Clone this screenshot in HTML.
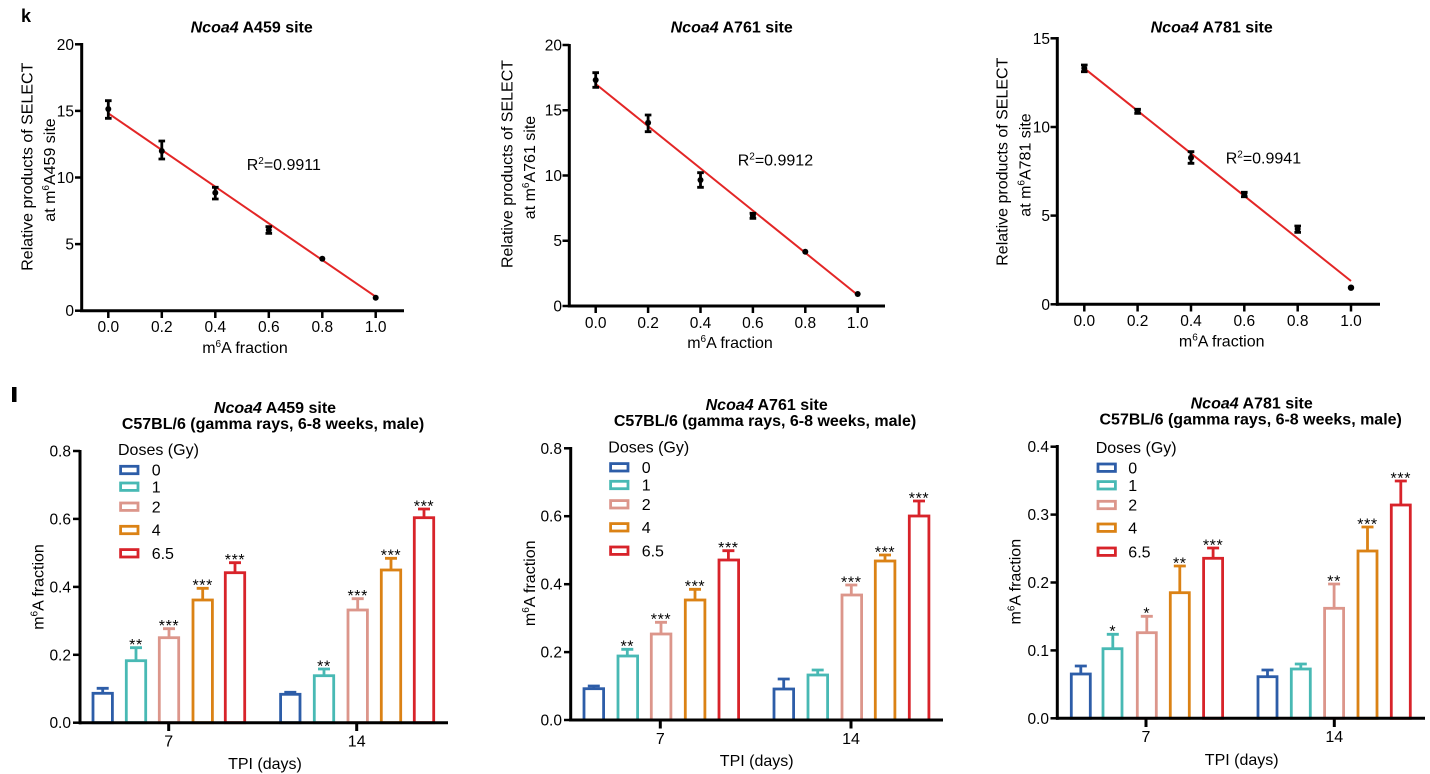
<!DOCTYPE html>
<html><head><meta charset="utf-8"><style>
html,body{margin:0;padding:0;background:#fff;}
svg{display:block;}
text{font-family:"Liberation Sans",Arial,sans-serif;fill:#000;}
.t{font-size:15.5px;}
.lab{font-size:16px;}
.ttl{font-size:16px;font-weight:bold;}
.st{font-size:16px;letter-spacing:0.6px;}
.ax{stroke:#000;stroke-width:3;fill:none;}
.tk{stroke:#000;stroke-width:2.5;fill:none;}
.eb{stroke:#000;stroke-width:2.8;fill:none;}
.fit{stroke:#e32626;stroke-width:2;fill:none;}
.b0{stroke:#2d5da8;}
.b1{stroke:#48b9b4;}
.b2{stroke:#dc968b;}
.b3{stroke:#db8215;}
.b4{stroke:#d8232a;}
.bar rect{fill:#fff;stroke-width:2.8;}
.bar path{fill:none;stroke-width:2.8;}
</style></head><body>
<svg width="1430" height="774" viewBox="0 0 1430 774" xmlns="http://www.w3.org/2000/svg">

<!-- ================= k ================= -->
<text x="21" y="22" style="font-size:18px;font-weight:bold">k</text>

<!-- Chart 1 -->
<text class="ttl" x="251.7" y="32.3" text-anchor="middle"><tspan font-style="italic">Ncoa4</tspan>  A459 site</text>
<line class="ax" x1="81.7" y1="43" x2="81.7" y2="312"/>
<line class="ax" x1="80" y1="310.7" x2="404" y2="310.7"/>
<g class="tk">
<line x1="75" y1="310.7" x2="81.7" y2="310.7"/><line x1="75" y1="244.1" x2="81.7" y2="244.1"/><line x1="75" y1="177.5" x2="81.7" y2="177.5"/><line x1="75" y1="110.9" x2="81.7" y2="110.9"/><line x1="75" y1="44.3" x2="81.7" y2="44.3"/>
<line x1="108.3" y1="310.7" x2="108.3" y2="318"/><line x1="161.8" y1="310.7" x2="161.8" y2="318"/><line x1="215.3" y1="310.7" x2="215.3" y2="318"/><line x1="268.8" y1="310.7" x2="268.8" y2="318"/><line x1="322.3" y1="310.7" x2="322.3" y2="318"/><line x1="375.7" y1="310.7" x2="375.7" y2="318"/>
</g>
<g class="t" text-anchor="end">
<text x="74" y="316.2">0</text><text x="74" y="249.6">5</text><text x="74" y="183">10</text><text x="74" y="116.4">15</text><text x="74" y="49.8">20</text>
</g>
<g class="t" text-anchor="middle">
<text x="108.3" y="332">0.0</text><text x="161.8" y="332">0.2</text><text x="215.3" y="332">0.4</text><text x="268.8" y="332">0.6</text><text x="322.3" y="332">0.8</text><text x="375.7" y="332">1.0</text>
</g>
<text class="lab" x="245" y="353" text-anchor="middle">m<tspan font-size="10" dy="-6">6</tspan><tspan dy="6">A fraction</tspan></text>
<text class="lab" transform="translate(27,166.7) rotate(-90)" y="5.7" text-anchor="middle">Relative products of SELECT</text>
<text class="lab" transform="translate(49.5,170) rotate(-90)" y="5.7" text-anchor="middle">at m<tspan font-size="10" dy="-6">6</tspan><tspan dy="6">A459 site</tspan></text>
<text class="lab" x="246.7" y="170">R<tspan font-size="10" dy="-6">2</tspan><tspan dy="6">=0.9911</tspan></text>
<line class="fit" x1="108.3" y1="113.3" x2="375.7" y2="296.7"/>
<g class="eb">
<path d="M108.3 100.7V118.3M105 100.7h6.6M105 118.3h6.6"/>
<path d="M161.8 141V159M158.5 141h6.6M158.5 159h6.6"/>
<path d="M215.3 187.3V199M212 187.3h6.6M212 199h6.6"/>
<path d="M268.8 226.7V233.3M265.5 226.7h6.6M265.5 233.3h6.6"/>
</g>
<g fill="#000">
<circle cx="108.3" cy="109" r="3"/><circle cx="161.8" cy="151" r="3"/><circle cx="215.3" cy="192.7" r="3"/><circle cx="268.8" cy="230" r="3"/><circle cx="322.3" cy="258.7" r="3"/><circle cx="375.7" cy="297.7" r="3"/>
</g>

<!-- Chart 2 -->
<text class="ttl" x="731.7" y="32.3" text-anchor="middle"><tspan font-style="italic">Ncoa4</tspan>  A761 site</text>
<line class="ax" x1="569.3" y1="44" x2="569.3" y2="307.5"/>
<line class="ax" x1="568" y1="306" x2="885" y2="306"/>
<g class="tk">
<line x1="562.5" y1="306" x2="569.3" y2="306"/><line x1="562.5" y1="240.75" x2="569.3" y2="240.75"/><line x1="562.5" y1="175.5" x2="569.3" y2="175.5"/><line x1="562.5" y1="110.25" x2="569.3" y2="110.25"/><line x1="562.5" y1="45" x2="569.3" y2="45"/>
<line x1="595.7" y1="306" x2="595.7" y2="313"/><line x1="648.1" y1="306" x2="648.1" y2="313"/><line x1="700.5" y1="306" x2="700.5" y2="313"/><line x1="752.9" y1="306" x2="752.9" y2="313"/><line x1="805.3" y1="306" x2="805.3" y2="313"/><line x1="857.7" y1="306" x2="857.7" y2="313"/>
</g>
<g class="t" text-anchor="end">
<text x="562" y="311.5">0</text><text x="562" y="246.2">5</text><text x="562" y="181">10</text><text x="562" y="115.7">15</text><text x="562" y="50.5">20</text>
</g>
<g class="t" text-anchor="middle">
<text x="595.7" y="328">0.0</text><text x="648.1" y="328">0.2</text><text x="700.5" y="328">0.4</text><text x="752.9" y="328">0.6</text><text x="805.3" y="328">0.8</text><text x="857.7" y="328">1.0</text>
</g>
<text class="lab" x="730" y="348" text-anchor="middle">m<tspan font-size="10" dy="-6">6</tspan><tspan dy="6">A fraction</tspan></text>
<text class="lab" transform="translate(506.7,164) rotate(-90)" y="5.7" text-anchor="middle">Relative products of SELECT</text>
<text class="lab" transform="translate(529.3,167.5) rotate(-90)" y="5.7" text-anchor="middle">at m<tspan font-size="10" dy="-6">6</tspan><tspan dy="6">A761 site</tspan></text>
<text class="lab" x="737.7" y="165.7">R<tspan font-size="10" dy="-6">2</tspan><tspan dy="6">=0.9912</tspan></text>
<line class="fit" x1="595.7" y1="84" x2="857.7" y2="295"/>
<g class="eb">
<path d="M595.7 72.7V87.3M592.4 72.7h6.6M592.4 87.3h6.6"/>
<path d="M648.1 115V131.7M644.8 115h6.6M644.8 131.7h6.6"/>
<path d="M700.5 172.7V187.3M697.2 172.7h6.6M697.2 187.3h6.6"/>
<path d="M752.9 213.3V218.3M749.6 213.3h6.6M749.6 218.3h6.6"/>
</g>
<g fill="#000">
<circle cx="595.7" cy="80" r="3"/><circle cx="648.1" cy="122.7" r="3"/><circle cx="700.5" cy="180" r="3"/><circle cx="752.9" cy="215.7" r="3"/><circle cx="805.3" cy="251.7" r="3"/><circle cx="857.7" cy="294" r="3"/>
</g>

<!-- Chart 3 -->
<text class="ttl" x="1211.7" y="32.3" text-anchor="middle"><tspan font-style="italic">Ncoa4</tspan>  A781 site</text>
<line class="ax" x1="1057.3" y1="37" x2="1057.3" y2="305.8"/>
<line class="ax" x1="1056" y1="304.3" x2="1380" y2="304.3"/>
<g class="tk">
<line x1="1050.5" y1="304.3" x2="1057.3" y2="304.3"/><line x1="1050.5" y1="215.6" x2="1057.3" y2="215.6"/><line x1="1050.5" y1="127" x2="1057.3" y2="127"/><line x1="1050.5" y1="38.3" x2="1057.3" y2="38.3"/>
<line x1="1084.3" y1="304.3" x2="1084.3" y2="311.5"/><line x1="1137.6" y1="304.3" x2="1137.6" y2="311.5"/><line x1="1191" y1="304.3" x2="1191" y2="311.5"/><line x1="1244.3" y1="304.3" x2="1244.3" y2="311.5"/><line x1="1297.7" y1="304.3" x2="1297.7" y2="311.5"/><line x1="1351" y1="304.3" x2="1351" y2="311.5"/>
</g>
<g class="t" text-anchor="end">
<text x="1050" y="309.8">0</text><text x="1050" y="221.1">5</text><text x="1050" y="132.5">10</text><text x="1050" y="43.8">15</text>
</g>
<g class="t" text-anchor="middle">
<text x="1084.3" y="326">0.0</text><text x="1137.6" y="326">0.2</text><text x="1191" y="326">0.4</text><text x="1244.3" y="326">0.6</text><text x="1297.7" y="326">0.8</text><text x="1351" y="326">1.0</text>
</g>
<text class="lab" x="1221.7" y="346.5" text-anchor="middle">m<tspan font-size="10" dy="-6">6</tspan><tspan dy="6">A fraction</tspan></text>
<text class="lab" transform="translate(1001.7,161.7) rotate(-90)" y="5.7" text-anchor="middle">Relative products of SELECT</text>
<text class="lab" transform="translate(1025,165) rotate(-90)" y="5.7" text-anchor="middle">at m<tspan font-size="10" dy="-6">6</tspan><tspan dy="6">A781 site</tspan></text>
<text class="lab" x="1225.7" y="163.4">R<tspan font-size="10" dy="-6">2</tspan><tspan dy="6">=0.9941</tspan></text>
<line class="fit" x1="1084.3" y1="68.3" x2="1351" y2="281"/>
<g class="eb">
<path d="M1084.3 65V71.7M1081 65h6.6M1081 71.7h6.6"/>
<path d="M1137.6 109.3V113.3M1134.3 109.3h6.6M1134.3 113.3h6.6"/>
<path d="M1191 151.7V163.3M1187.7 151.7h6.6M1187.7 163.3h6.6"/>
<path d="M1244.3 192.3V196.7M1241 192.3h6.6M1241 196.7h6.6"/>
<path d="M1297.7 226V232.3M1294.4 226h6.6M1294.4 232.3h6.6"/>
</g>
<g fill="#000">
<circle cx="1084.3" cy="68.3" r="3"/><circle cx="1137.6" cy="111" r="3"/><circle cx="1191" cy="157.7" r="3"/><circle cx="1244.3" cy="194" r="3"/><circle cx="1297.7" cy="229" r="3"/><circle cx="1351" cy="287.7" r="3.2"/>
</g>

<!-- ================= l ================= -->
<rect x="12" y="387" width="4.5" height="15" fill="#000"/>

<!-- Bottom-left -->
<text class="ttl" x="275" y="413" text-anchor="middle"><tspan font-style="italic">Ncoa4</tspan>  A459 site</text>
<text class="ttl" x="273" y="429" text-anchor="middle">C57BL/6 (gamma rays, 6-8 weeks, male)</text>
<text class="lab" x="118" y="455">Doses (Gy)</text>
<g class="bar">
<rect class="b0" x="120.6" y="466.3" width="17.4" height="7.4"/>
<rect class="b1" x="120.6" y="483" width="17.4" height="7.4"/>
<rect class="b2" x="120.6" y="503" width="17.4" height="7.4"/>
<rect class="b3" x="120.6" y="526.3" width="17.4" height="7.4"/>
<rect class="b4" x="120.6" y="549.6" width="17.4" height="7.4"/>
</g>
<g class="lab"><text x="151.7" y="475.7">0</text><text x="151.7" y="492.4">1</text><text x="151.7" y="512.4">2</text><text x="151.7" y="535.7">4</text><text x="151.7" y="559">6.5</text></g>

<g class="bar">
<path class="b0" d="M102.7 693.3V688.3M96.7 688.3h12"/><rect class="b0" x="93" y="693.3" width="19.4" height="29.4"/>
<path class="b1" d="M136 660.7V647.7M130 647.7h12"/><rect class="b1" x="126.3" y="660.7" width="19.4" height="62"/>
<path class="b2" d="M169 637.7V628.7M163 628.7h12"/><rect class="b2" x="159.3" y="637.7" width="19.4" height="85"/>
<path class="b3" d="M202.7 600V588.3M196.7 588.3h12"/><rect class="b3" x="193" y="600" width="19.4" height="122.7"/>
<path class="b4" d="M235 572.7V562.7M229 562.7h12"/><rect class="b4" x="225.3" y="572.7" width="19.4" height="150"/>
<path class="b0" d="M290.3 694.3V692.3M284.3 692.3h12"/><rect class="b0" x="280.6" y="694.3" width="19.4" height="28.4"/>
<path class="b1" d="M324 675.7V669M318 669h12"/><rect class="b1" x="314.3" y="675.7" width="19.4" height="47"/>
<path class="b2" d="M357.7 610V598.7M351.7 598.7h12"/><rect class="b2" x="348" y="610" width="19.4" height="112.7"/>
<path class="b3" d="M391 570V558.3M385 558.3h12"/><rect class="b3" x="381.3" y="570" width="19.4" height="152.7"/>
<path class="b4" d="M424 517.7V509M418 509h12"/><rect class="b4" x="414.3" y="517.7" width="19.4" height="205"/>
</g>
<g class="st" text-anchor="middle">
<text x="136" y="650.1">**</text><text x="169" y="631.1">***</text><text x="202.7" y="590.6">***</text><text x="235" y="565.1">***</text>
<text x="324" y="671.4">**</text><text x="357.7" y="601.1">***</text><text x="391" y="560.6">***</text><text x="424" y="511.4">***</text>
</g>
<line class="ax" x1="80" y1="450" x2="80" y2="724.2"/>
<line class="ax" x1="79" y1="722.7" x2="448" y2="722.7"/>
<g class="tk">
<line x1="73" y1="722.7" x2="80" y2="722.7"/><line x1="73" y1="654.8" x2="80" y2="654.8"/><line x1="73" y1="586.9" x2="80" y2="586.9"/><line x1="73" y1="518.9" x2="80" y2="518.9"/><line x1="73" y1="451" x2="80" y2="451"/>
</g>
<line x1="168.7" y1="722.7" x2="168.7" y2="731" stroke="#000" stroke-width="3"/><line x1="356.7" y1="722.7" x2="356.7" y2="731" stroke="#000" stroke-width="3"/>
<g class="t" text-anchor="end">
<text x="71" y="728.2">0.0</text><text x="71" y="660.3">0.2</text><text x="71" y="592.4">0.4</text><text x="71" y="524.4">0.6</text><text x="71" y="456.5">0.8</text>
</g>
<g class="lab" text-anchor="middle"><text x="168.7" y="746.5">7</text><text x="356.7" y="746.5">14</text></g>
<text class="lab" x="265" y="769" text-anchor="middle">TPI (days)</text>
<text class="lab" transform="translate(38,587) rotate(-90)" y="5.7" text-anchor="middle">m<tspan font-size="10" dy="-6">6</tspan><tspan dy="6">A fraction</tspan></text>

<!-- Bottom-middle -->
<text class="ttl" x="766.7" y="410" text-anchor="middle"><tspan font-style="italic">Ncoa4</tspan>  A761 site</text>
<text class="ttl" x="765" y="426" text-anchor="middle">C57BL/6 (gamma rays, 6-8 weeks, male)</text>
<text class="lab" x="608.3" y="452.5">Doses (Gy)</text>
<g class="bar">
<rect class="b0" x="610.6" y="463.6" width="17.4" height="7.4"/>
<rect class="b1" x="610.6" y="481.3" width="17.4" height="7.4"/>
<rect class="b2" x="610.6" y="500.6" width="17.4" height="7.4"/>
<rect class="b3" x="610.6" y="523.6" width="17.4" height="7.4"/>
<rect class="b4" x="610.6" y="547" width="17.4" height="7.4"/>
</g>
<g class="lab"><text x="641.7" y="473">0</text><text x="641.7" y="490.7">1</text><text x="641.7" y="510">2</text><text x="641.7" y="533">4</text><text x="641.7" y="556.4">6.5</text></g>

<g class="bar">
<path class="b0" d="M593.8 688.7V686M587.8 686h12"/><rect class="b0" x="584" y="688.7" width="19.6" height="31.3"/>
<path class="b1" d="M627.3 656V649.3M621.3 649.3h12"/><rect class="b1" x="618" y="656" width="19.6" height="64"/>
<path class="b2" d="M661 634V622.3M655 622.3h12"/><rect class="b2" x="651.3" y="634" width="19.6" height="86"/>
<path class="b3" d="M695 600V589.3M689 589.3h12"/><rect class="b3" x="685.3" y="600" width="19.6" height="120"/>
<path class="b4" d="M728.4 560V550.7M722.4 550.7h12"/><rect class="b4" x="719" y="560" width="19.6" height="160"/>
<path class="b0" d="M783.7 689V679M777.7 679h12"/><rect class="b0" x="774" y="689" width="19.6" height="31"/>
<path class="b1" d="M817.7 675V670M811.7 670h12"/><rect class="b1" x="808" y="675" width="19.6" height="45"/>
<path class="b2" d="M851.3 595V585M845.3 585h12"/><rect class="b2" x="842" y="595" width="19.6" height="125"/>
<path class="b3" d="M885 561V555M879 555h12"/><rect class="b3" x="875.3" y="561" width="19.6" height="159"/>
<path class="b4" d="M919 516V501M913 501h12"/><rect class="b4" x="909.3" y="516" width="19.6" height="204"/>
</g>
<g class="st" text-anchor="middle">
<text x="627.3" y="651.6">**</text><text x="661" y="624.6">***</text><text x="695" y="591.6">***</text><text x="728.4" y="553.1">***</text>
<text x="851.3" y="587.4">***</text><text x="885" y="557.4">***</text><text x="919" y="503.4">***</text>
</g>
<line class="ax" x1="570.7" y1="447" x2="570.7" y2="721.5"/>
<line class="ax" x1="569" y1="720" x2="943" y2="720"/>
<g class="tk">
<line x1="564" y1="720" x2="570.7" y2="720"/><line x1="564" y1="652.1" x2="570.7" y2="652.1"/><line x1="564" y1="584.2" x2="570.7" y2="584.2"/><line x1="564" y1="516.2" x2="570.7" y2="516.2"/><line x1="564" y1="448.3" x2="570.7" y2="448.3"/>
</g>
<line x1="660.3" y1="720" x2="660.3" y2="728.5" stroke="#000" stroke-width="3"/><line x1="851" y1="720" x2="851" y2="728.5" stroke="#000" stroke-width="3"/>
<g class="t" text-anchor="end">
<text x="562" y="725.5">0.0</text><text x="562" y="657.6">0.2</text><text x="562" y="589.7">0.4</text><text x="562" y="521.7">0.6</text><text x="562" y="453.8">0.8</text>
</g>
<g class="lab" text-anchor="middle"><text x="660.3" y="744">7</text><text x="851" y="744">14</text></g>
<text class="lab" x="756.7" y="766" text-anchor="middle">TPI (days)</text>
<text class="lab" transform="translate(529.3,583.3) rotate(-90)" y="5.7" text-anchor="middle">m<tspan font-size="10" dy="-6">6</tspan><tspan dy="6">A fraction</tspan></text>

<!-- Bottom-right -->
<text class="ttl" x="1251.7" y="408.3" text-anchor="middle"><tspan font-style="italic">Ncoa4</tspan>  A781 site</text>
<text class="ttl" x="1250.7" y="424.5" text-anchor="middle">C57BL/6 (gamma rays, 6-8 weeks, male)</text>
<text class="lab" x="1095.7" y="453">Doses (Gy)</text>
<g class="bar">
<rect class="b0" x="1098" y="464" width="17.4" height="7.4"/>
<rect class="b1" x="1098" y="481.6" width="17.4" height="7.4"/>
<rect class="b2" x="1098" y="501.3" width="17.4" height="7.4"/>
<rect class="b3" x="1098" y="524" width="17.4" height="7.4"/>
<rect class="b4" x="1098" y="548" width="17.4" height="7.4"/>
</g>
<g class="lab"><text x="1128.3" y="473.4">0</text><text x="1128.3" y="491">1</text><text x="1128.3" y="510.7">2</text><text x="1128.3" y="533.4">4</text><text x="1128.3" y="557.4">6.5</text></g>

<g class="bar">
<path class="b0" d="M1080.8 674V666M1074.8 666h12"/><rect class="b0" x="1071.3" y="674" width="19" height="44.3"/>
<path class="b1" d="M1112.8 648.7V634.3M1106.8 634.3h12"/><rect class="b1" x="1103" y="648.7" width="19" height="69.6"/>
<path class="b2" d="M1146.8 632.7V616.3M1140.8 616.3h12"/><rect class="b2" x="1137.3" y="632.7" width="19" height="85.6"/>
<path class="b3" d="M1179.8 592.7V566M1173.8 566h12"/><rect class="b3" x="1170.3" y="592.7" width="19" height="125.6"/>
<path class="b4" d="M1213.1 558.3V548M1207.1 548h12"/><rect class="b4" x="1203.6" y="558.3" width="19" height="160"/>
<path class="b0" d="M1267.5 676.7V670M1261.5 670h12"/><rect class="b0" x="1258" y="676.7" width="19" height="41.6"/>
<path class="b1" d="M1300.8 669V664M1294.8 664h12"/><rect class="b1" x="1291.3" y="669" width="19" height="49.3"/>
<path class="b2" d="M1334.1 608.3V584M1328.1 584h12"/><rect class="b2" x="1324.6" y="608.3" width="19" height="110"/>
<path class="b3" d="M1367.5 551V527M1361.5 527h12"/><rect class="b3" x="1358" y="551" width="19" height="167.3"/>
<path class="b4" d="M1400.8 505V481M1394.8 481h12"/><rect class="b4" x="1391.3" y="505" width="19" height="213.3"/>
</g>
<g class="st" text-anchor="middle">
<text x="1112.8" y="636.6">*</text><text x="1146.8" y="618.6">*</text><text x="1179.8" y="568.4">**</text><text x="1213.1" y="550.4">***</text>
<text x="1334.1" y="586.4">**</text><text x="1367.5" y="529.4">***</text><text x="1400.8" y="483.4">***</text>
</g>
<line class="ax" x1="1057.3" y1="445" x2="1057.3" y2="719.8"/>
<line class="ax" x1="1056" y1="718.3" x2="1425" y2="718.3"/>
<g class="tk">
<line x1="1050.5" y1="718.3" x2="1057.3" y2="718.3"/><line x1="1050.5" y1="650.4" x2="1057.3" y2="650.4"/><line x1="1050.5" y1="582.5" x2="1057.3" y2="582.5"/><line x1="1050.5" y1="514.6" x2="1057.3" y2="514.6"/><line x1="1050.5" y1="446.7" x2="1057.3" y2="446.7"/>
</g>
<line x1="1146" y1="718.3" x2="1146" y2="727" stroke="#000" stroke-width="3"/><line x1="1334.3" y1="718.3" x2="1334.3" y2="727" stroke="#000" stroke-width="3"/>
<g class="t" text-anchor="end">
<text x="1049" y="723.8">0.0</text><text x="1049" y="655.9">0.1</text><text x="1049" y="588">0.2</text><text x="1049" y="520.1">0.3</text><text x="1049" y="452.2">0.4</text>
</g>
<g class="lab" text-anchor="middle"><text x="1146" y="742.2">7</text><text x="1334.3" y="742.2">14</text></g>
<text class="lab" x="1241.7" y="765" text-anchor="middle">TPI (days)</text>
<text class="lab" transform="translate(1015,581.7) rotate(-90)" y="5.7" text-anchor="middle">m<tspan font-size="10" dy="-6">6</tspan><tspan dy="6">A fraction</tspan></text>

</svg>
</body></html>
